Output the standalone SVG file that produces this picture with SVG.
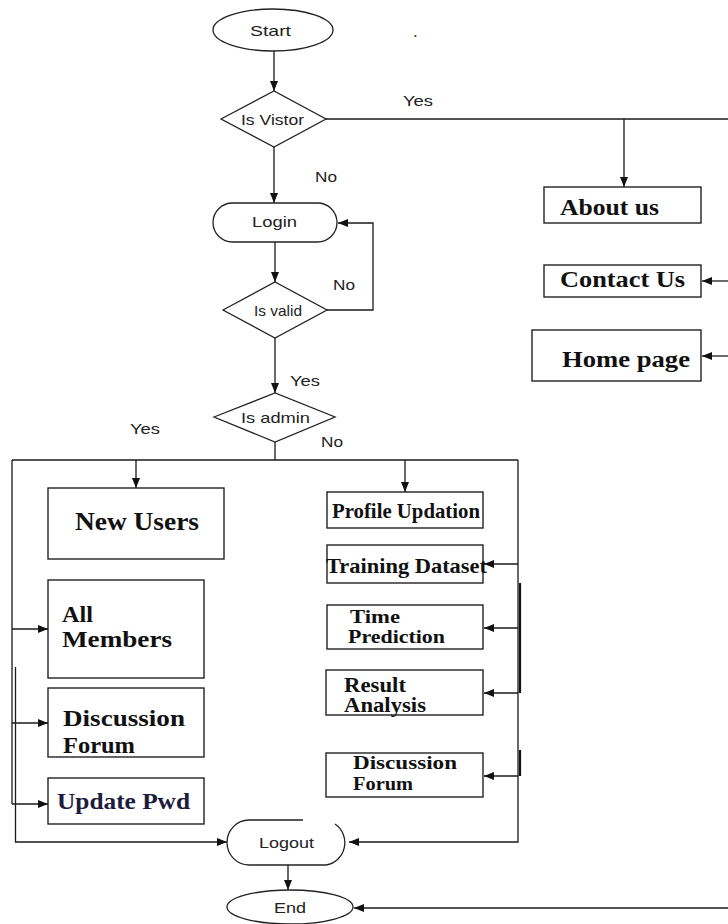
<svg xmlns="http://www.w3.org/2000/svg" width="728" height="924" viewBox="0 0 728 924">
<style>
.sh{fill:#fff;stroke:#222;stroke-width:1.3}
.bx{fill:#fff;stroke:#222;stroke-width:1.4}
.ln{fill:none;stroke:#1a1a1a;stroke-width:1.3}
.th{fill:none;stroke:#111;stroke-width:2.2}
.s{font-family:"Liberation Sans",Arial,sans-serif;font-size:15px;fill:#222}
.sc{text-anchor:middle}
.b{font-family:"Liberation Serif","Times New Roman",serif;font-weight:bold;fill:#111}
</style>
<defs>
<marker id="ar" viewBox="0 0 10 8" refX="10" refY="4" markerWidth="10" markerHeight="8" markerUnits="userSpaceOnUse" orient="auto">
<path d="M0,0 L10,4 L0,8 Z" fill="#111"/>
</marker>
</defs>
<rect width="728" height="924" fill="#fff"/>

<g id="connectors">
<line class="ln" x1="274" y1="51" x2="274" y2="91" marker-end="url(#ar)"/>
<line class="ln" x1="274" y1="147" x2="274" y2="203" marker-end="url(#ar)"/>
<polyline class="ln" points="326,119 729,119 729,908"/>
<line class="ln" x1="624" y1="119" x2="624" y2="187" marker-end="url(#ar)"/>
<line class="ln" x1="729" y1="281" x2="702" y2="281" marker-end="url(#ar)"/>
<line class="ln" x1="729" y1="356" x2="702" y2="356" marker-end="url(#ar)"/>
<line class="ln" x1="729" y1="908" x2="354" y2="908" marker-end="url(#ar)"/>
<line class="ln" x1="275" y1="242" x2="275" y2="282" marker-end="url(#ar)"/>
<polyline class="ln" points="327,310 373,310 373,223 338,223" marker-end="url(#ar)"/>
<line class="ln" x1="275" y1="338" x2="275" y2="393" marker-end="url(#ar)"/>
<line class="ln" x1="275" y1="442" x2="275" y2="460"/>
<line class="ln" x1="12" y1="460" x2="518" y2="460"/>
<line class="ln" x1="136" y1="460" x2="136" y2="488" marker-end="url(#ar)"/>
<line class="ln" x1="405" y1="460" x2="405" y2="492" marker-end="url(#ar)"/>
<line class="ln" x1="12" y1="460" x2="12" y2="804"/>
<line class="ln" x1="12" y1="629" x2="48" y2="629" marker-end="url(#ar)"/>
<line class="ln" x1="12" y1="723" x2="48" y2="723" marker-end="url(#ar)"/>
<line class="ln" x1="12" y1="804" x2="48" y2="804" marker-end="url(#ar)"/>
<polyline class="ln" points="15.5,667 15.5,842 227,842" marker-end="url(#ar)"/>
<polyline class="ln" points="518,460 518,842 349,842" marker-end="url(#ar)"/>
<line class="ln" x1="518" y1="564" x2="484" y2="564" marker-end="url(#ar)"/>
<line class="ln" x1="518" y1="628" x2="484" y2="628" marker-end="url(#ar)"/>
<line class="ln" x1="518" y1="693" x2="484" y2="693" marker-end="url(#ar)"/>
<line class="ln" x1="518" y1="776" x2="484" y2="776" marker-end="url(#ar)"/>
<line class="th" x1="520" y1="583" x2="520" y2="693"/>
<line class="th" x1="520" y1="750" x2="520" y2="776"/>
<line class="ln" x1="288" y1="865" x2="288" y2="890" marker-end="url(#ar)"/>
</g>

<g id="start">
<ellipse class="sh" cx="273" cy="30" rx="60" ry="21"/>
<text class="s" x="250" y="36" textLength="41" lengthAdjust="spacingAndGlyphs">Start</text>
</g>
<text class="s" x="413" y="37" style="font-size:17px">.</text>

<g id="is-visitor">
<polygon class="sh" points="221,119 274,91 326,119 274,147"/>
<text class="s" x="241" y="125" textLength="63" lengthAdjust="spacingAndGlyphs">Is Vistor</text>
<text class="s" x="403" y="106" textLength="30" lengthAdjust="spacingAndGlyphs">Yes</text>
<text class="s" x="315" y="182" textLength="22" lengthAdjust="spacingAndGlyphs">No</text>
</g>

<g id="login">
<rect class="sh" x="213" y="203" width="124" height="39" rx="19.5"/>
<text class="s" x="252" y="227" textLength="45" lengthAdjust="spacingAndGlyphs">Login</text>
</g>

<g id="is-valid">
<polygon class="sh" points="223,310 275,282 327,310 275,338"/>
<text class="s" x="254" y="316" textLength="48" lengthAdjust="spacingAndGlyphs">Is valid</text>
<text class="s" x="333" y="290" textLength="22" lengthAdjust="spacingAndGlyphs">No</text>
</g>

<g id="is-admin">
<polygon class="sh" points="214,417 275,393 335,417 275,442"/>
<text class="s" x="241" y="423" textLength="69" lengthAdjust="spacingAndGlyphs">Is admin</text>
<text class="s" x="290" y="386" textLength="30" lengthAdjust="spacingAndGlyphs">Yes</text>
<text class="s" x="130" y="434" textLength="30" lengthAdjust="spacingAndGlyphs">Yes</text>
<text class="s" x="321" y="447" textLength="22" lengthAdjust="spacingAndGlyphs">No</text>
</g>

<g id="about-us">
<rect class="bx" x="544" y="187" width="157" height="36"/>
<text class="b" x="560" y="215" font-size="23" textLength="99" lengthAdjust="spacingAndGlyphs">About us</text>
</g>
<g id="contact-us">
<rect class="bx" x="544" y="265" width="157" height="32"/>
<text class="b" x="560" y="287" font-size="23" textLength="125" lengthAdjust="spacingAndGlyphs">Contact Us</text>
</g>
<g id="home-page">
<rect class="bx" x="532" y="330" width="169" height="51"/>
<text class="b" x="562" y="367" font-size="23" textLength="128" lengthAdjust="spacingAndGlyphs">Home page</text>
</g>

<g id="new-users">
<rect class="bx" x="48" y="488" width="176" height="71"/>
<text class="b" x="75" y="530" font-size="25" textLength="124" lengthAdjust="spacingAndGlyphs">New Users</text>
</g>
<g id="all-members">
<rect class="bx" x="48" y="580" width="156" height="98"/>
<text class="b" x="62" y="622" font-size="24" textLength="31" lengthAdjust="spacingAndGlyphs">All</text>
<text class="b" x="62" y="647" font-size="24" textLength="110" lengthAdjust="spacingAndGlyphs">Members</text>
</g>
<g id="discussion-forum-admin">
<rect class="bx" x="48" y="688" width="156" height="69"/>
<text class="b" x="63" y="726" font-size="24" textLength="122" lengthAdjust="spacingAndGlyphs">Discussion</text>
<text class="b" x="63" y="753" font-size="24" textLength="72" lengthAdjust="spacingAndGlyphs">Forum</text>
</g>
<g id="update-pwd">
<rect class="bx" x="48" y="778" width="156" height="46"/>
<text class="b" x="57" y="809" font-size="24" textLength="133" lengthAdjust="spacingAndGlyphs" style="fill:#1c1c3c">Update Pwd</text>
</g>

<g id="profile-updation">
<rect class="bx" x="327" y="492" width="156" height="36"/>
<text class="b" x="332" y="518" font-size="21" textLength="148" lengthAdjust="spacingAndGlyphs">Profile Updation</text>
</g>
<g id="training-dataset">
<rect class="bx" x="327" y="545" width="156" height="38"/>
<text class="b" x="326" y="573" font-size="21" textLength="161" lengthAdjust="spacingAndGlyphs">Training Dataset</text>
</g>
<g id="time-prediction">
<rect class="bx" x="327" y="605" width="156" height="44"/>
<text class="b" x="350" y="623" font-size="19" textLength="50" lengthAdjust="spacingAndGlyphs">Time</text>
<text class="b" x="348" y="643" font-size="19" textLength="97" lengthAdjust="spacingAndGlyphs">Prediction</text>
</g>
<g id="result-analysis">
<rect class="bx" x="326" y="670" width="157" height="45"/>
<text class="b" x="344" y="692" font-size="20" textLength="62" lengthAdjust="spacingAndGlyphs">Result</text>
<text class="b" x="344" y="712" font-size="20" textLength="82" lengthAdjust="spacingAndGlyphs">Analysis</text>
</g>
<g id="discussion-forum-user">
<rect class="bx" x="326" y="753" width="157" height="44"/>
<text class="b" x="353" y="769" font-size="19" textLength="104" lengthAdjust="spacingAndGlyphs">Discussion</text>
<text class="b" x="353" y="790" font-size="19" textLength="60" lengthAdjust="spacingAndGlyphs">Forum</text>
</g>

<g id="logout">
<path class="sh" d="M303,820 H249 A22,22.5 0 0 0 249,865 H326 A22,22.5 0 0 0 335,824"/>
<text class="s" x="259" y="848" textLength="55" lengthAdjust="spacingAndGlyphs">Logout</text>
</g>
<g id="end">
<ellipse class="sh" cx="290" cy="907" rx="63" ry="17"/>
<text class="s" x="274" y="913" textLength="32" lengthAdjust="spacingAndGlyphs">End</text>
</g>
</svg>
